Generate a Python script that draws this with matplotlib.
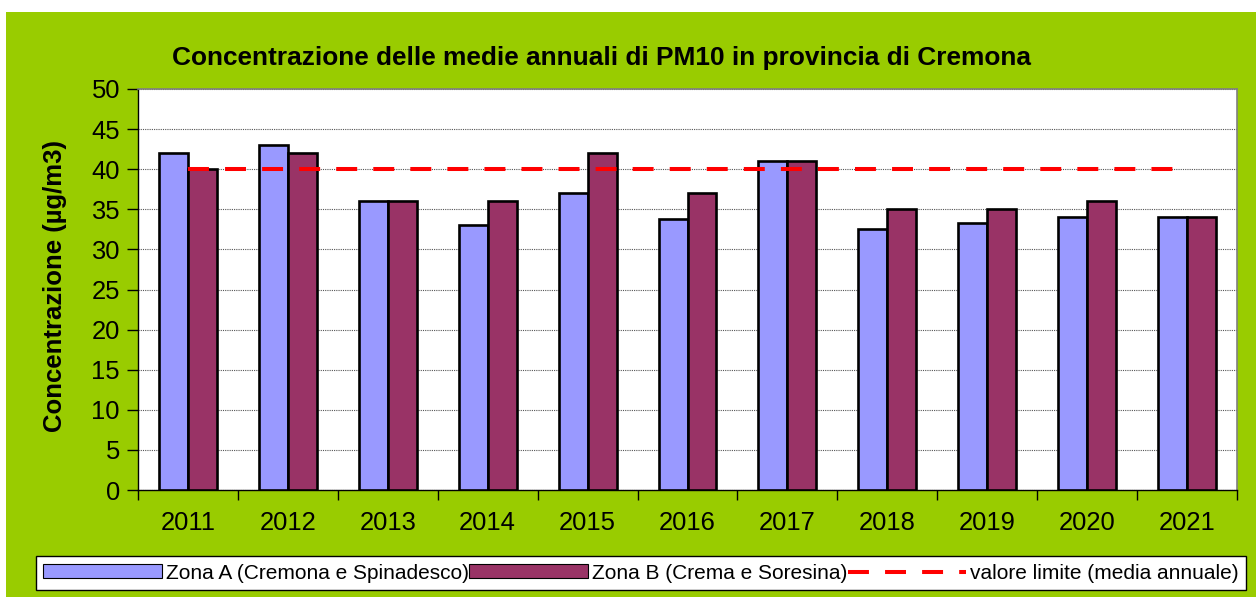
import numpy as np
import matplotlib.pyplot as plt
from matplotlib.patches import Patch, Rectangle
from matplotlib.lines import Line2D

plt.rcParams["font.family"] = ["Liberation Sans", "DejaVu Sans"]

YEARS = ["2011", "2012", "2013", "2014", "2015", "2016", "2017", "2018", "2019", "2020", "2021"]
ZONA_A = [42, 43, 36, 33, 37, 33.8, 41, 32.5, 33.3, 34, 34]
ZONA_B = [40, 42, 36, 36, 42, 37, 41, 35, 35, 36, 34]
LIMITE = [40] * len(YEARS)

COL_A = "#9999FF"
COL_B = "#993366"
COL_LINE = "#FF0000"
GREEN = "#99CC00"

W, H = 1256, 597
fig = plt.figure(figsize=(W / 100, H / 100), dpi=100, facecolor="white")
fig.patches.append(Rectangle((6 / W, 0), 1, (H - 12) / H, transform=fig.transFigure,
                             facecolor=GREEN, edgecolor="none", zorder=-10))

ax = fig.add_axes([138 / W, (H - 490) / H, (1237 - 138) / W, (490 - 89) / H])
ax.set_facecolor("white")

x = np.arange(len(YEARS))
bw = 0.29
ax.bar(x - bw / 2, ZONA_A, width=bw, color=COL_A, edgecolor="black", linewidth=1.9, zorder=3)
ax.bar(x + bw / 2, ZONA_B, width=bw, color=COL_B, edgecolor="black", linewidth=1.9, zorder=3)
ax.plot(x, LIMITE, color=COL_LINE, linewidth=2.9, dashes=(5.2, 4.0), zorder=4)

ax.set_xlim(-0.5, len(YEARS) - 0.5)
ax.set_ylim(0, 50)
ax.set_yticks(range(0, 51, 5))
ax.yaxis.grid(True, linestyle=(0, (1, 1)), color="#555555", linewidth=0.8, zorder=0)

ax.set_xticks(np.arange(-0.5, len(YEARS), 1.0))
ax.set_xticklabels([])
ax.set_xticks(x, minor=True)
ax.set_xticklabels(YEARS, minor=True)
ax.tick_params(axis="x", which="major", direction="out", length=7.5, width=1, color="black")
ax.tick_params(axis="x", which="minor", length=0, pad=15, labelsize=18.4)
ax.tick_params(axis="y", direction="out", length=8, width=1, pad=5, labelsize=18.4)

for side in ["top", "right"]:
    ax.spines[side].set_color("#808080")
    ax.spines[side].set_linewidth(1.2)
for side in ["left", "bottom"]:
    ax.spines[side].set_color("black")
    ax.spines[side].set_linewidth(1.0)

fig.text(602 / W, (H - 58) / H, "Concentrazione delle medie annuali di PM10 in provincia di Cremona",
         ha="center", va="center", fontsize=18.9, fontweight="bold")
fig.text(55 / W, (H - 286) / H, "Concentrazione (µg/m3)", rotation=90,
         ha="center", va="center", fontsize=18.5, fontweight="bold")

handles = [
    Patch(facecolor=COL_A, edgecolor="black", linewidth=0.8, label="Zona A (Cremona e Spinadesco)"),
    Patch(facecolor=COL_B, edgecolor="black", linewidth=0.8, label="Zona B (Crema e Soresina)"),
    Line2D([0], [0], color=COL_LINE, linewidth=2.9, dashes=(5.2, 4.0), label="valore limite (media annuale)"),
]
leg = fig.legend(handles=handles, ncol=3, loc="lower left", bbox_to_anchor=(36 / W, 7 / H),
                 fontsize=15.0, frameon=True, fancybox=False, edgecolor="black", framealpha=1,
                 handlelength=5.7, handleheight=0.65, handletextpad=0.2, columnspacing=0.0,
                 borderpad=0.35, borderaxespad=0)
leg.get_frame().set_linewidth(1.0)

fig.savefig("out.png", dpi=100, facecolor=fig.get_facecolor())
